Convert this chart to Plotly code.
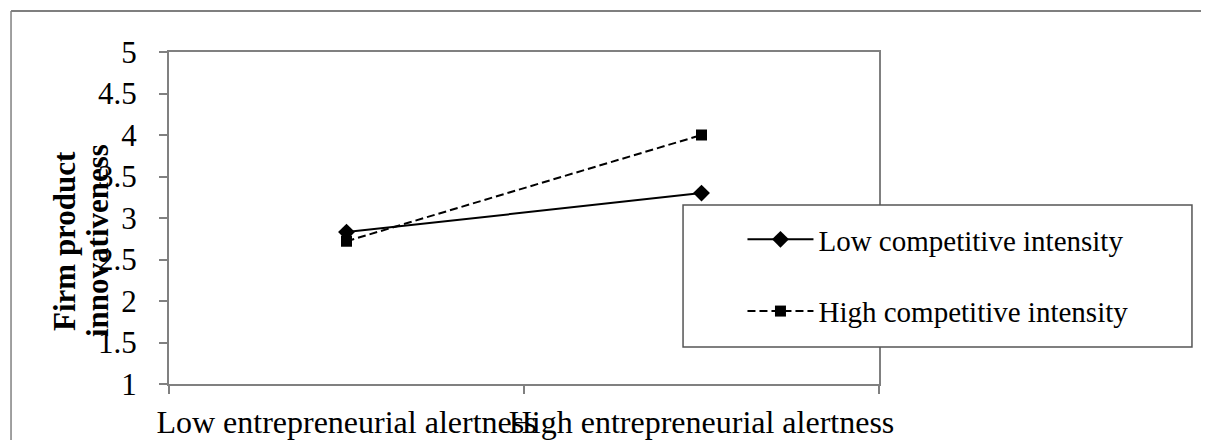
import plotly.graph_objects as go

categories = ["Low entrepreneurial alertness", "High entrepreneurial alertness"]
low_ci = [2.83, 3.30]
high_ci = [2.72, 4.00]
y_ticks = [1, 1.5, 2, 2.5, 3, 3.5, 4, 4.5, 5]
y_tick_text = ["1", "1.5", "2", "2.5", "3", "3.5", "4", "4.5", "5"]
y_title_lines = ["Firm product", "innovativeness"]

FONT = "Liberation Serif, Times New Roman, serif"

fig = go.Figure()
fig.add_trace(go.Scatter(
    x=categories, y=low_ci, name="Low competitive intensity",
    mode="lines+markers", legendgroup="a",
    line=dict(color="black", width=2, dash="solid"),
    marker=dict(symbol="diamond", size=13, color="black"),
))
fig.add_trace(go.Scatter(
    x=categories, y=high_ci, name="High competitive intensity",
    mode="lines+markers", legendgroup="b",
    line=dict(color="black", width=2, dash="8px,4px"),
    marker=dict(symbol="square", size=11, color="black"),
))

axis_color = "#808080"
fig.update_layout(
    width=1209, height=440,
    margin=dict(l=161, r=338, t=44, b=64, autoexpand=False),
    paper_bgcolor="white", plot_bgcolor="white",
    font=dict(family=FONT, color="black", size=29),
    xaxis=dict(
        type="category", range=[-0.5, 1.5], tickangle=0, automargin=False,
        tickson="boundaries", ticks="outside", ticklen=8, tickcolor=axis_color,
        tickwidth=1.5, ticklabelstandoff=9,
        showline=True, linecolor=axis_color, linewidth=2, mirror=True,
        showgrid=False, zeroline=False,
        tickfont=dict(family=FONT, size=32, color="black"),
    ),
    yaxis=dict(
        range=[1, 5], tickvals=y_ticks, ticktext=y_tick_text, automargin=False,
        ticks="outside", ticklen=8, tickcolor=axis_color, tickwidth=1.5,
        showline=True, linecolor=axis_color, linewidth=2, mirror=True,
        showgrid=False, zeroline=False, ticklabelstandoff=16,
        tickfont=dict(family=FONT, size=31, color="black"),
    ),
    legend=dict(
        x=0.8077, y=0.512, xanchor="left", yanchor="top",
        bgcolor="rgba(0,0,0,0)", borderwidth=0,
        font=dict(family=FONT, size=29, color="black"),
        tracegroupgap=31, itemwidth=66, traceorder="grouped",
    ),
    showlegend=True,
)

# Legend box
fig.add_shape(type="rect", xref="paper", yref="paper",
              x0=0.724, x1=1.4408, y0=0.1114, y1=0.539,
              line=dict(color="#555555", width=1.5), fillcolor="white", layer="above")
# Outer frame (top and left edges)
fig.add_shape(type="line", xref="paper", yref="paper",
              x0=-0.2225, x1=1.48, y0=1.1235, y1=1.1235,
              line=dict(color="#555555", width=1.5))
fig.add_shape(type="line", xref="paper", yref="paper",
              x0=-0.2225, x1=-0.2225, y0=-0.25, y1=1.1235,
              line=dict(color="#808080", width=1.5))

for txt, xp in zip(y_title_lines, [-0.1479, -0.1014]):
    fig.add_annotation(
        text="<b>" + txt + "</b>", textangle=-90,
        xref="paper", yref="paper", x=xp, y=0.4307,
        xanchor="center", yanchor="middle", showarrow=False,
        font=dict(family=FONT, size=31, color="black"),
    )

fig.write_html("out.html")
